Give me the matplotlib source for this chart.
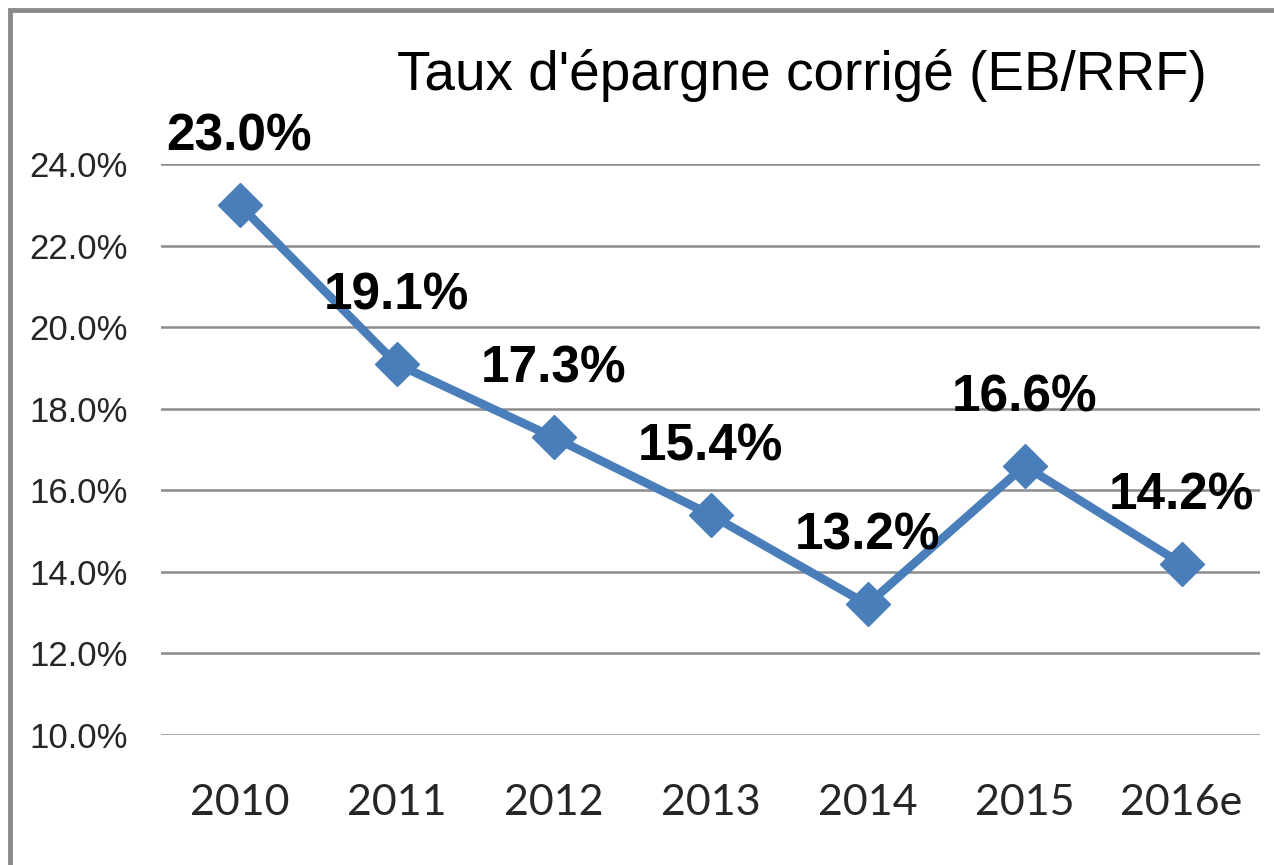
import matplotlib
matplotlib.use("Agg")
import matplotlib.pyplot as plt
from matplotlib.patches import Rectangle
from matplotlib.ticker import FuncFormatter

years = ["2010", "2011", "2012", "2013", "2014", "2015", "2016e"]
taux = [23.0, 19.1, 17.3, 15.4, 13.2, 16.6, 14.2]
y_ticks = [10, 12, 14, 16, 18, 20, 22, 24]
title = "Taux d'épargne corrigé (EB/RRF)"

W, H = 1274, 865
fig = plt.figure(figsize=(W / 100, H / 100), dpi=100)
fig.patch.set_facecolor("white")

# outer border (top & left visible, cropped at right/bottom)
fig.patches.append(Rectangle((10 / W, -0.05), 1.2, 1 - 10 / H + 0.05,
                             transform=fig.transFigure, fill=False,
                             edgecolor="#8a8a8a", linewidth=3.5))

ax = fig.add_axes([161 / W, 1 - 735 / H, 1099 / W, (735 - 164) / H])
ax.set_facecolor("none")
x = list(range(len(years)))
ax.plot(x, taux, color="#4A7EBB", linewidth=6.2, marker="D", markersize=22,
        markerfacecolor="#4A7EBB", markeredgecolor="#4A7EBB", zorder=3)

for xi, v in zip(x, taux):
    ax.annotate(f"{v:.1f}%", (xi, v), xytext=(0, 49), textcoords="offset points",
                ha="center", va="center", fontsize=37, fontweight="bold",
                family="Liberation Sans", color="black", zorder=4)

ax.set_xlim(-0.5, len(years) - 0.5)
ax.set_ylim(10, 24)
ax.set_yticks(y_ticks)
ax.yaxis.set_major_formatter(FuncFormatter(lambda v, p: f"{v:.1f}%"))
ax.grid(axis="y", color="#8c8c8c", linewidth=1.8)
ax.set_axisbelow(True)
for s in ax.spines.values():
    s.set_visible(False)
ax.tick_params(axis="y", length=0, pad=24, labelsize=25, labelcolor="#262626")
for lab in ax.get_yticklabels():
    lab.set_family("Liberation Sans")
ax.set_xticks(x)
ax.set_xticklabels(years, family="Lato", fontsize=31, color="#262626")
ax.tick_params(axis="x", length=0, pad=35)

fig.text(802 / W, 1 - 75 / H, title, ha="center", va="center",
         fontsize=39.5, family="Liberation Sans", color="black")

fig.savefig("out.png", dpi=100)
